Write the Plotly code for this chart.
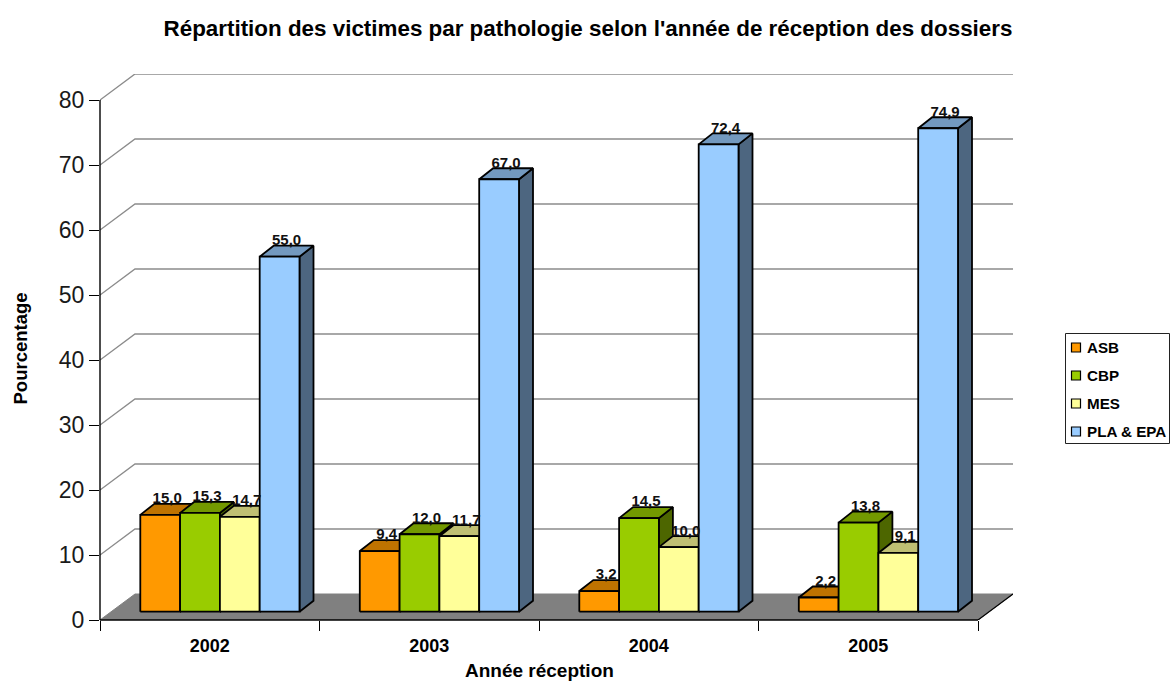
import plotly.graph_objects as go

years = ["2002", "2003", "2004", "2005"]
series_names = ["ASB", "CBP", "MES", "PLA & EPA"]
asb = [15.0, 9.4, 3.2, 2.2]
cbp = [15.3, 12.0, 14.5, 13.8]
mes = [14.7, 11.7, 10.0, 9.1]
pla = [55.0, 67.0, 72.4, 74.9]
series_values = [asb, cbp, mes, pla]

front_colors = ["#FF9900", "#99CC00", "#FFFF99", "#99CCFF"]
top_colors = ["#BF7300", "#739900", "#BFBF73", "#7399BF"]
side_colors = ["#804D00", "#4D6600", "#808066", "#4D6680"]
grid_values = list(range(0, 90, 10))

W, H = 1170, 682
L, R, T, B = 100, 978, 100, 620
px_x = (R - L) / 4           # pixels per category
px_y = (B - T) / 80          # pixels per unit
wall_dx, wall_dy = 35 / px_x, 26 / px_y   # depth of the floor
bar_dx, bar_dy = 14 / px_x, 11 / px_y     # depth of a bar
bar_w = 39.8 / px_x
group_start = 40.3 / px_x
bar_base = 8.3 / px_y
bar_scale = 0.993            # perspective foreshortening of the bars
label_gap = bar_dy * 0.4 + 3.5 / px_y
PR, PT = R + 35, T - 26      # outer corner of the plot area


def px(x):
    return (x - L) / (PR - L)


def py(y):
    return (B - y) / (B - PT)


fig = go.Figure()


def poly(xs, ys, fill, line="black", width=1.8):
    fig.add_trace(go.Scatter(
        x=xs + xs[:1], y=ys + ys[:1], mode="lines", fill="toself", fillcolor=fill,
        line=dict(color=line, width=width), cliponaxis=False,
        showlegend=False, hoverinfo="skip"))


# floor
poly([0, wall_dx, 4 + wall_dx, 4], [0, wall_dy, wall_dy, 0], "#808080", "#808080", 1)
fig.add_trace(go.Scatter(x=[4, 4 + wall_dx], y=[0, wall_dy], mode="lines",
                         line=dict(color="black", width=1.2), cliponaxis=False,
                         showlegend=False, hoverinfo="skip"))

# gridlines
for g in grid_values[1:]:
    fig.add_trace(go.Scatter(
        x=[0, wall_dx, 4 + wall_dx], y=[g, g + wall_dy, g + wall_dy], mode="lines",
        line=dict(color="#8C8C8C", width=1.4), cliponaxis=False,
        showlegend=False, hoverinfo="skip"))

# bars
for c in range(len(years)):
    for s in range(len(series_names)):
        v = series_values[s][c]
        x0 = c + group_start + s * bar_w
        x1 = x0 + bar_w
        y0 = bar_base
        y1 = bar_base + v * bar_scale
        poly([x1, x1 + bar_dx, x1 + bar_dx, x1], [y0, y0 + bar_dy, y1 + bar_dy, y1], side_colors[s])
        poly([x0, x0 + bar_dx, x1 + bar_dx, x1], [y1, y1 + bar_dy, y1 + bar_dy, y1], top_colors[s])
        poly([x0, x1, x1, x0], [y0, y0, y1, y1], front_colors[s])

# value labels
for s in range(len(series_names)):
    xs = [c + group_start + (s + 0.5) * bar_w + bar_dx / 2 for c in range(len(years))]
    ys = [bar_base + v * bar_scale + label_gap for v in series_values[s]]
    fig.add_trace(go.Scatter(
        x=xs, y=ys, mode="text", textposition="top center",
        text=[f"{v:.1f}".replace(".", ",") for v in series_values[s]],
        textfont=dict(family="Liberation Sans", size=15, color="#111111", weight="bold"),
        cliponaxis=False, showlegend=False, hoverinfo="skip"))

# axis lines (the plot area is larger than the axes because of the 3D depth)
shapes = [
    dict(type="line", xref="paper", yref="paper", x0=0, x1=0, y0=0, y1=py(T),
         line=dict(color="black", width=1.4)),
    dict(type="line", xref="paper", yref="paper", x0=0, x1=px(R), y0=0, y1=0,
         line=dict(color="black", width=1.4)),
]

# legend (swatches and text)
shapes.append(dict(type="rect", xref="paper", yref="paper",
                   x0=px(1065.5), x1=px(1169.5), y0=py(443.5), y1=py(333.5),
                   line=dict(color="#222222", width=1), fillcolor="white"))
annotations = []
for i, name in enumerate(series_names):
    yc = 347.5 + i * 28
    shapes.append(dict(type="rect", xref="paper", yref="paper",
                       x0=px(1071.5), x1=px(1080.5), y0=py(yc + 4.5), y1=py(yc - 4.5),
                       line=dict(color="black", width=1.2), fillcolor=front_colors[i]))
    annotations.append(dict(xref="paper", yref="paper", x=px(1085), y=py(yc),
                            xanchor="left", yanchor="middle",
                            text=f"<b>{name}</b>".replace("&", "&amp;"), showarrow=False,
                            font=dict(family="Liberation Sans", size=15.2, color="black")))

annotations.append(dict(xref="paper", yref="paper", x=px(19.5), y=py(349),
                        xanchor="center", yanchor="middle", textangle=-90,
                        text="<b>Pourcentage</b>", showarrow=False,
                        font=dict(family="Liberation Sans", size=18.5, color="black")))
annotations.append(dict(xref="paper", yref="paper", x=px(539), y=py(670),
                        xanchor="center", yanchor="middle",
                        text="<b>Année réception</b>", showarrow=False,
                        font=dict(family="Liberation Sans", size=19, color="black")))

fig.update_layout(
    width=W, height=H, autosize=False,
    margin=dict(l=L, r=W - PR, t=PT, b=H - B, pad=0),
    paper_bgcolor="white", plot_bgcolor="rgba(0,0,0,0)",
    showlegend=False, shapes=shapes, annotations=annotations,
    title=dict(text="<b>Répartition des victimes par pathologie selon l'année de réception des dossiers</b>",
               x=588 / W, xanchor="center", y=1 - 28 / H, yanchor="middle",
               font=dict(family="Liberation Sans", size=22.4, color="black")),
    xaxis=dict(range=[0, 4 + wall_dx], tickmode="array", tickvals=[0.5, 1.5, 2.5, 3.5], ticktext=years,
               ticks="outside", ticklen=9, tickcolor="rgba(0,0,0,0)", automargin=False,
               showgrid=False, zeroline=False, showline=False,
               tickfont=dict(family="Liberation Sans", size=18, color="black", weight="bold"),
               minor=dict(tickmode="array", tickvals=[0, 1, 2, 3, 4], ticks="outside", ticklen=10,
                          tickcolor="black", tickwidth=1, showgrid=False)),
    yaxis=dict(range=[0, 80 + wall_dy], tickmode="array", tickvals=grid_values, automargin=False,
               ticks="outside", ticklen=10, tickcolor="black", tickwidth=1,
               showgrid=False, zeroline=False, showline=False,
               tickfont=dict(family="Liberation Sans", size=23, color="#1a1a1a")),
)

fig.write_html("out.html", config=dict(displayModeBar=False),
               post_script="document.body.style.margin='0';")
